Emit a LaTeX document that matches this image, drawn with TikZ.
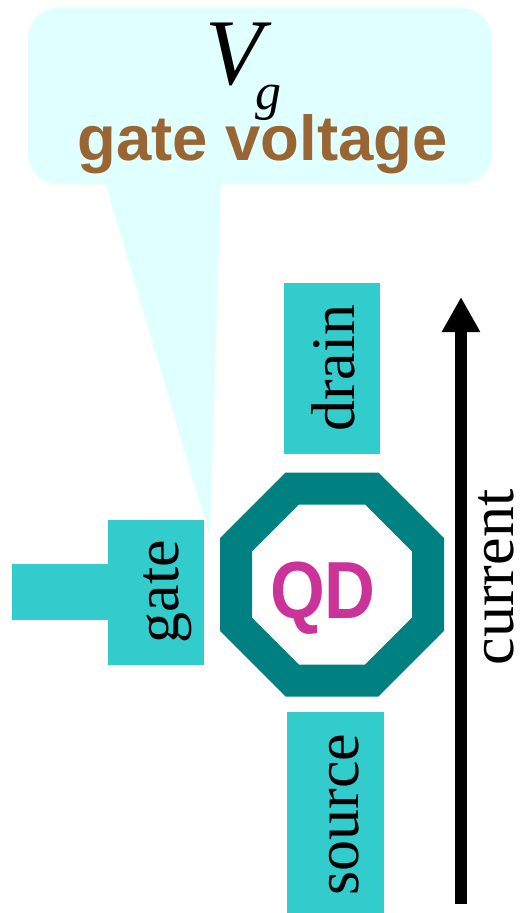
\documentclass[tikz,border=0pt]{standalone}
\usepackage{fontspec}
\setmainfont{Liberation Serif}
\newfontfamily\arialfont{Liberation Sans}
\usetikzlibrary{arrows.meta}
\definecolor{boxcyan}{HTML}{33CCCC}
\definecolor{calloutcyan}{HTML}{E0FFFF}
\definecolor{qdteal}{HTML}{008080}
\definecolor{qdmagenta}{HTML}{CC3399}
\definecolor{voltbrown}{HTML}{996633}
\begin{document}
\begin{tikzpicture}[x=1pt,y=-1pt,
  padbox/.style={fill=boxcyan, draw=none, inner sep=0pt, outer sep=0pt},
  lbl/.style={font=\fontsize{62}{62}\selectfont, rotate=90, inner sep=0pt},
]
\useasboundingbox (0,0) rectangle (520,913);
% callout
\fill[calloutcyan, rounded corners=30pt] (28,8) rectangle (492,184);
\fill[calloutcyan] (105,182) -- (210,537) -- (221,182) -- cycle;
\node[font=\itshape\fontsize{94}{94}\selectfont, inner sep=0pt] (vsym) at (234.5,54) {V};
\node[font=\itshape\fontsize{52}{52}\selectfont, inner sep=0pt] (gsub) at (268.5,103) {g};
\node[font=\arialfont\bfseries\fontsize{63.5}{63.5}\selectfont, text=voltbrown, inner sep=0pt] (gv) at (262.5,144) {gate voltage};
% pads
\node[padbox, minimum width=96pt, minimum height=171pt] (drainpad) at (332,368.5) {};
\node[padbox, minimum width=96pt, minimum height=145pt] (gatepad) at (156,592.5) {};
\node[padbox, minimum width=96pt, minimum height=56pt] (gatestem) at (60,592) {};
\node[padbox, minimum width=97pt, minimum height=201pt] (sourcepad) at (335.5,812.5) {};
\node[lbl] (draintxt) at (333.5,368) {drain};
\node[lbl] (gatetxt) at (168,591.5) {gate};
\node[lbl] (sourcetxt) at (344.5,814.5) {source};
\node[lbl] (currenttxt) at (496.5,577.5) {current};
% quantum dot ring
\fill[qdteal, even odd rule]
  (378.4,472.5) -- (444,538.1) -- (444,630.9) -- (378.4,696.5) -- (285.6,696.5) -- (220,630.9) -- (220,538.1) -- (285.6,472.5) -- cycle
  (365.1,504.5) -- (412,551.4) -- (412,617.6) -- (365.1,664.5) -- (298.9,664.5) -- (252,617.6) -- (252,551.4) -- (298.9,504.5) -- cycle;
\node[font=\arialfont\bfseries\fontsize{81}{81}\selectfont, text=qdmagenta, anchor=base, inner sep=0pt] (qd) at (323,618) {\scalebox{0.87}[1]{QD}};
% current arrow
\coordinate (cbot) at (461,904);
\coordinate (ctop) at (461,297);
\draw[line width=12pt, -{Triangle[width=36pt,length=35pt]}] (cbot) -- (ctop);
\end{tikzpicture}
\end{document}
